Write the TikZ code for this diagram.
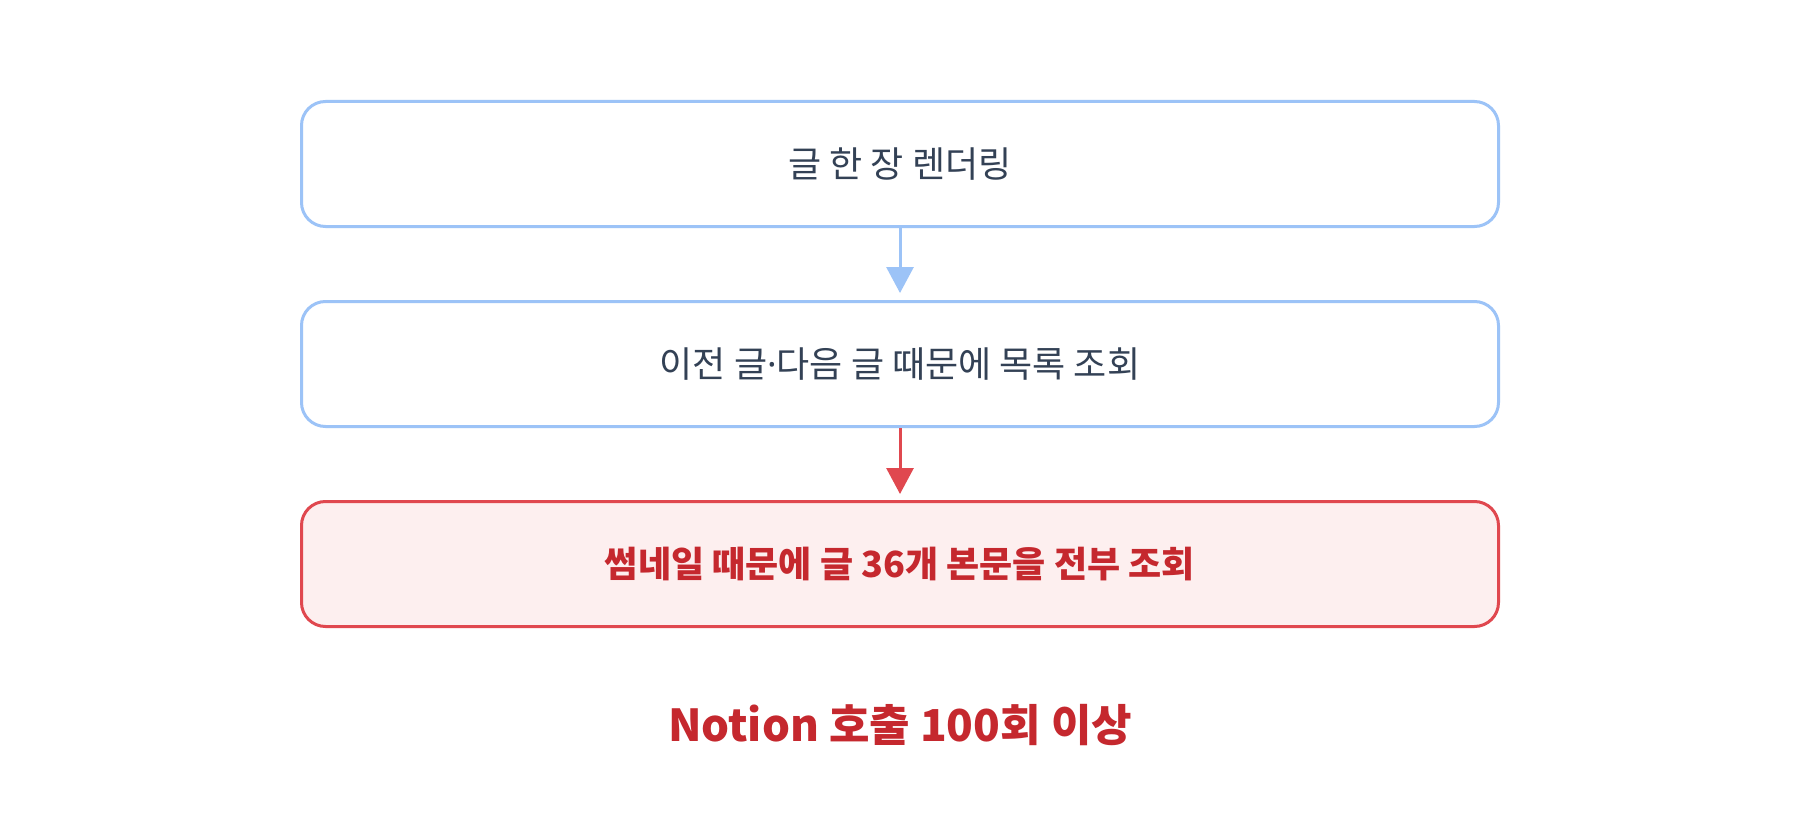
\documentclass[tikz,border=0pt]{standalone}
\usepackage{fontspec}
\setmainfont{Noto Sans CJK KR}
\newfontfamily\dotfont{Noto Sans}
\usetikzlibrary{arrows.meta}
\definecolor{bblue}{HTML}{9CC3F7}
\definecolor{tdark}{HTML}{334155}
\definecolor{rline}{HTML}{E0484F}
\definecolor{rfill}{HTML}{FDEFEF}
\definecolor{rtext}{HTML}{C5282E}
\tikzset{
  box/.style={rounded corners=24pt, line width=3pt, minimum width=1197pt, minimum height=125pt, inner sep=0pt, font=\fontsize{36pt}{42pt}\selectfont},
  bluebox/.style={box, draw=bblue, fill=white, text=tdark},
  redbox/.style={box, draw=rline, fill=rfill, text=rtext, font=\fontsize{36pt}{42pt}\selectfont\bfseries},
  barrow/.style={draw=bblue, line width=3pt, -{Triangle[length=26pt,width=27pt]}, shorten >=7pt},
  rarrow/.style={draw=rline, line width=3pt, -{Triangle[length=26pt,width=27pt]}, shorten >=6pt},
  note/.style={text=rtext, font=\fontsize{44pt}{52pt}\selectfont\bfseries}
}
\begin{document}
\begin{tikzpicture}[x=1pt,y=-1pt]
\useasboundingbox[fill=white] (0,0) rectangle (1800,840);
\node[bluebox] (a) at (900,164) {글 한 장 렌더링};
\node[bluebox] (b) at (900,364) {이전 글{\dotfont ·}다음 글 때문에 목록 조회};
\node[redbox] (c) at (900,564) {썸네일 때문에 글 36개 본문을 전부 조회};
\node[note] (d) at (900,725) {Notion 호출 100회 이상};
\draw[barrow] (a.south) -- (b.north);
\draw[rarrow] (b.south) -- (c.north);
\end{tikzpicture}
\end{document}
